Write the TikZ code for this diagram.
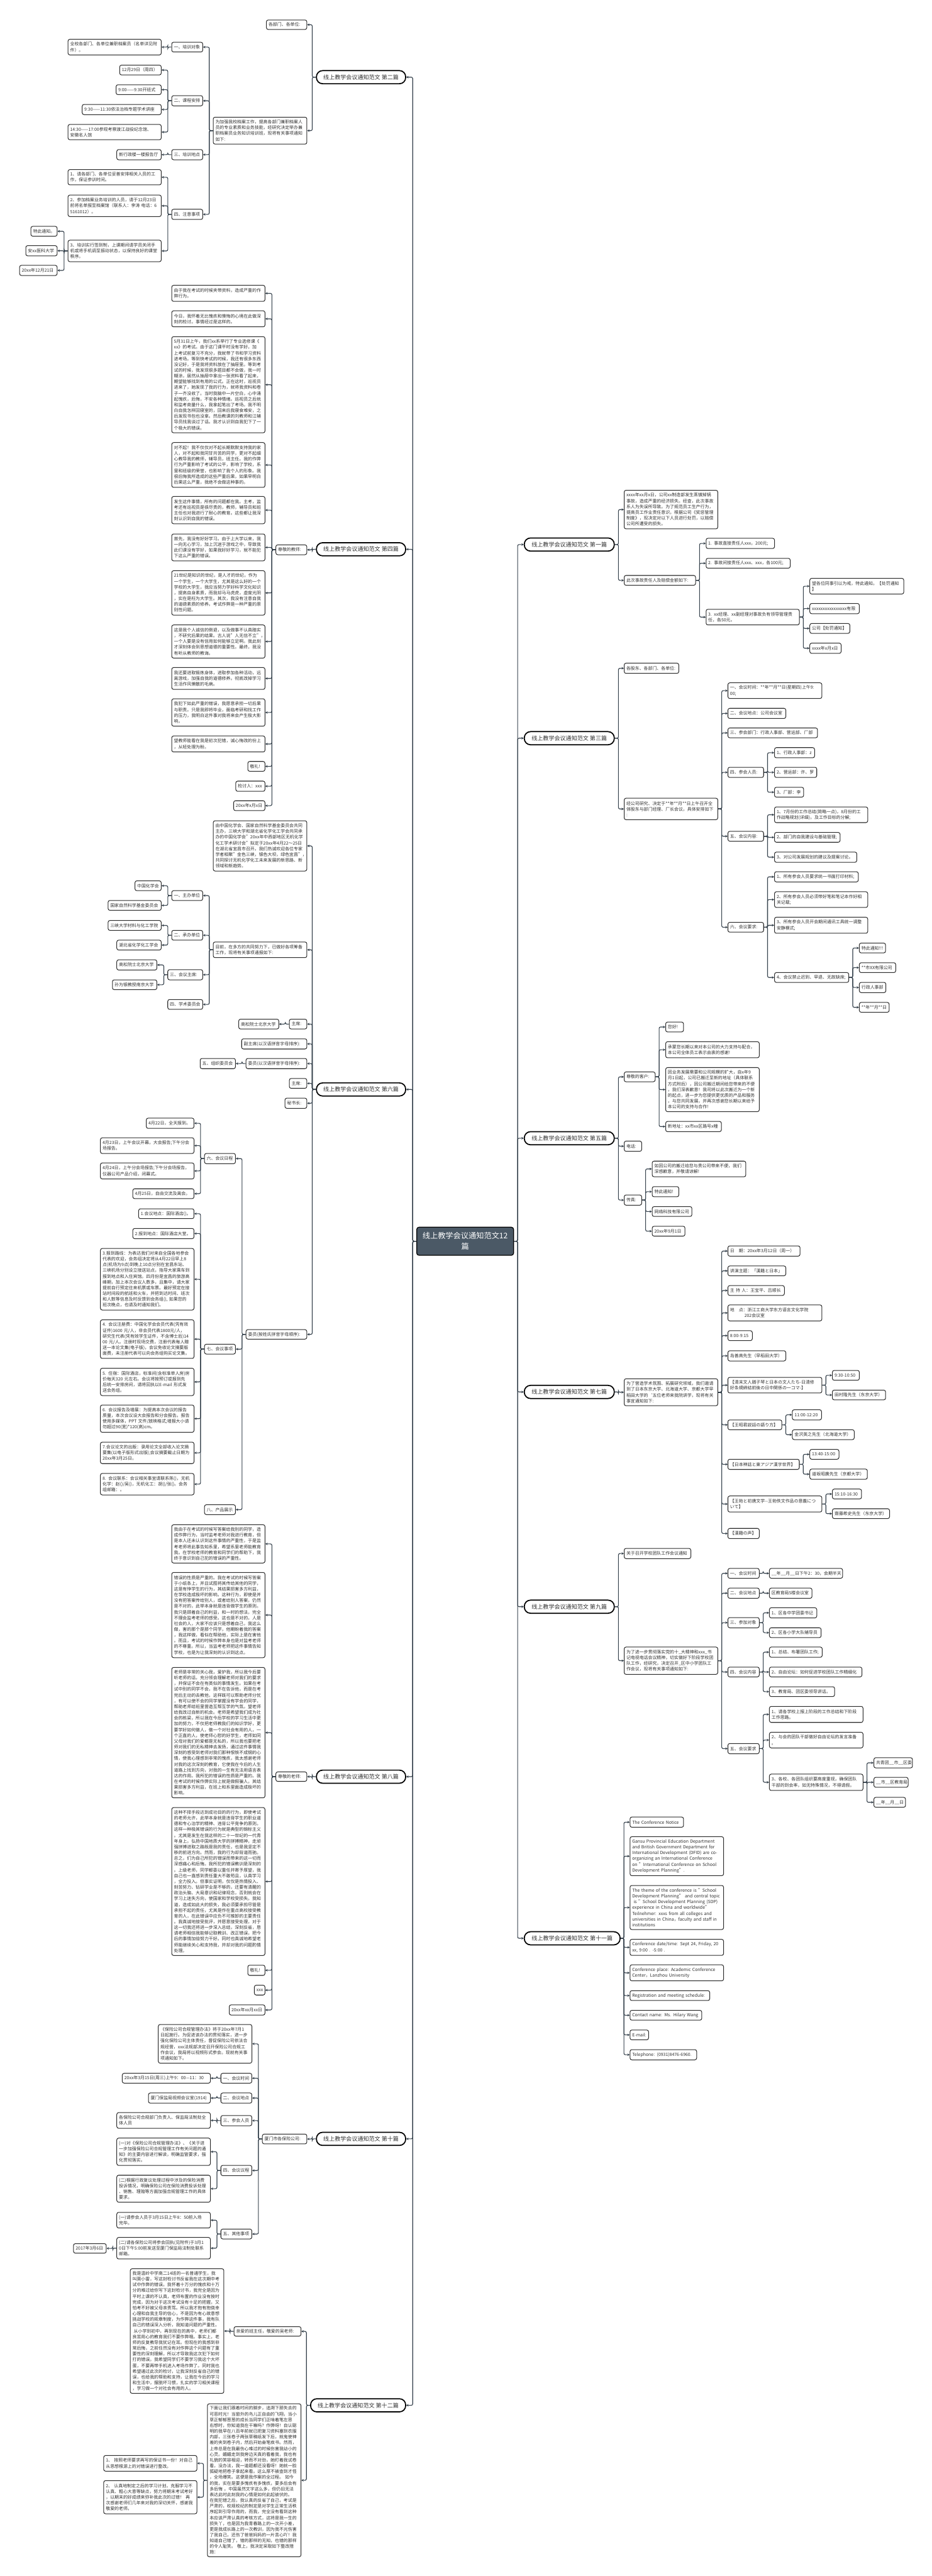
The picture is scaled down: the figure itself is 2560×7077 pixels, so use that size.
\documentclass[tikz,border=0pt]{standalone}
\usepackage{fontspec}
\setmainfont{Noto Sans CJK SC}
\usetikzlibrary{arrows.meta}
\definecolor{linec}{HTML}{34404B}
\definecolor{boxc}{HTML}{2B2B2B}
\definecolor{txtc}{HTML}{303030}
\definecolor{cfill}{HTML}{4B5966}
\newcommand{\bxfont}{\fontsize{3.4pt}{4.5pt}\selectfont}
\newcommand{\pillfont}{\fontsize{4.45pt}{5.5pt}\selectfont}
\newcommand{\cenfont}{\fontsize{6pt}{8.3pt}\selectfont}
\tikzset{
 box/.style={draw=boxc, line width=0.5pt, rounded corners=0.05cm, fill=white, inner xsep=0.06cm, inner ysep=0pt, align=left, font=\bxfont, text=txtc},
 pill/.style={draw=black, line width=0.85pt, rounded corners=0.17cm, fill=white, inner xsep=0.1cm, inner ysep=0pt, minimum height=0.36cm, font=\pillfont, text=txtc},
 cen/.style={draw=black, line width=0.6pt, rounded corners=0.06cm, fill=cfill, text=white, align=center, font=\cenfont, minimum width=2.66cm, minimum height=0.77cm},
 conn/.style={draw=linec, line width=0.55pt, rounded corners=0.04cm, -{Stealth[length=1.8pt,width=1.9pt]}},
}
\newcommand{\bx}[6]{%
 \pgfmathsetmacro\bxw{(#4-#2)*0.284528}%
 \pgfmathsetmacro\bxh{(#5-#3)*0.284528}%
 \pgfmathsetmacro\bxt{(#4-#2-12)*0.284528}%
 \node[box,anchor=north west,minimum width=\bxw pt,minimum height=\bxh pt,text width=\bxt pt] (#1) at (#2,#3) {#6};}
\newcommand{\lconn}[2]{\foreach \cc in {#2}{\draw[conn] (#1.west) -- ++(-10,0) |- (\cc.east);}}
\newcommand{\rconn}[2]{\foreach \cc in {#2}{\draw[conn] (#1.east) -- ++(10,0) |- (\cc.west);}}
\begin{document}
\begin{tikzpicture}[x=0.01cm,y=-0.01cm]
\fill[white] (0,0) rectangle (2560,7077);
\useasboundingbox (0,0) rectangle (2560,7077);
% ===== centre =====
\node[cen] (C) at (1278,3410) {线上教学会议通知范文12\\篇};
% ===== left pills =====
\node[pill,anchor=east,minimum width=2.45cm] (L2) at (1116,212) {线上教学会议通知范文 第二篇};
\node[pill,anchor=east,minimum width=2.45cm] (L4) at (1116,1509) {线上教学会议通知范文 第四篇};
\node[pill,anchor=east,minimum width=2.45cm] (L6) at (1116,2993) {线上教学会议通知范文 第六篇};
\node[pill,anchor=east,minimum width=2.45cm] (L8) at (1116,4881) {线上教学会议通知范文 第八篇};
\node[pill,anchor=east,minimum width=2.45cm] (L10) at (1116,5876) {线上教学会议通知范文 第十篇};
\node[pill,anchor=east,minimum width=2.61cm] (L12) at (1116,6608) {线上教学会议通知范文 第十二篇};
% ===== right pills =====
\node[pill,anchor=west,minimum width=2.47cm] (R1) at (1439,1496) {线上教学会议通知范文 第一篇};
\node[pill,anchor=west,minimum width=2.47cm] (R3) at (1439,2028) {线上教学会议通知范文 第三篇};
\node[pill,anchor=west,minimum width=2.47cm] (R5) at (1439,3127) {线上教学会议通知范文 第五篇};
\node[pill,anchor=west,minimum width=2.47cm] (R7) at (1439,3824) {线上教学会议通知范文 第七篇};
\node[pill,anchor=west,minimum width=2.47cm] (R9) at (1439,4414) {线上教学会议通知范文 第九篇};
\node[pill,anchor=west,minimum width=2.63cm] (R11) at (1439,5325) {线上教学会议通知范文 第十一篇};
\lconn{C}{L2,L4,L6,L8,L10,L12}
\rconn{C}{R1,R3,R5,R7,R9,R11}
% ===== 第二篇 =====
\bx{b2a}{731}{54}{842}{80}{各部门、各单位:}
\bx{b2b}{585}{321}{842}{395}{为加强我校档案工作，提高各部门兼职档案人\\员的专业素质和业务技能，经研究决定举办兼\\职档案员业务知识培训班，现将有关事项通知\\如下:}
\bx{b2c}{471}{115}{556}{142}{一、培训对象}
\bx{b2d}{471}{262}{556}{290}{二、课程安排}
\bx{b2e}{471}{410}{556}{438}{三、培训地点}
\bx{b2f}{471}{574}{556}{602}{四、注意事项}
\bx{b2g}{186}{107}{442}{150}{全校各部门、各单位兼职档案员（名单详见附\\件）。}
\bx{b2h}{328}{178}{442}{205}{12月29日（周四）}
\bx{b2i}{318}{232}{442}{259}{9:00——9:30开班式}
\bx{b2j}{225}{286}{442}{314}{9:30——11:30依法治档专题学术讲座}
\bx{b2k}{186}{341}{442}{383}{14:30——17:00参观考察渡江战役纪念馆、\\安徽名人馆}
\bx{b2l}{320}{410}{442}{438}{新行政楼一楼报告厅}
\bx{b2m}{186}{465}{442}{507}{1、请各部门、各单位妥善安排相关人员的工\\作，保证参训时间。}
\bx{b2n}{186}{535}{442}{594}{2、参加档案业务培训的人员，请于12月23日\\前将名单报至档案馆（联系人：李涛 电话：6\\5161012）。}
\bx{b2o}{186}{659}{442}{718}{3、培训实行签到制，上课期间请学员关闭手\\机或将手机调至振动状态，以保持良好的课堂\\秩序。}
\bx{b2p}{84}{621}{156}{648}{特此通知。}
\bx{b2q}{70}{674}{156}{702}{安xx医科大学}
\bx{b2r}{53}{728}{156}{756}{20xx年12月21日}
\lconn{L2}{b2a,b2b}
\lconn{b2b}{b2c,b2d,b2e,b2f}
\lconn{b2c}{b2g}
\lconn{b2d}{b2h,b2i,b2j,b2k}
\lconn{b2e}{b2l}
\lconn{b2f}{b2m,b2n,b2o}
\lconn{b2o}{b2p,b2q,b2r}
% ===== 第四篇 =====
\bx{b4a}{757}{1496}{842}{1523}{尊敬的教师:}
\bx{b4b}{471}{783}{727}{827}{由于我在考试的时候夹带资料，造成严重的作\\弊行为。}
\bx{b4c}{471}{853}{727}{897}{今日，我怀着无比愧疚和懊悔的心境在此做深\\刻的检讨。事情经过是这样的。}
\bx{b4d}{471}{924}{727}{1188}{5月31日上午，我们xx系举行了专业选修课《\\xx》的考试。由于这门课平时没有学好，加\\上考试前复习不充分，我就带了书和学习资料\\进考场。等到快考试的时候，我还有很多东西\\没记好，于是我将资料放在了抽屉里。等到考\\试的时候，我发现很多题目都不会做，我一时\\糊涂，居然从抽屉中拿出一张资料看了起来，\\期望能够找到有用的公式。正在这时，巡视员\\进来了，她发现了我的行为，就将我资料和卷\\子一齐没收了。当时我脑中一片空白，心中涌\\起愧疚，后悔，不安各种情绪。巡视员之后就\\和监考商量什么，我拿起笔出了考场。我不明\\白自我怎样回寝室的，回来后我寝食难安，之\\后发现书包也没拿。然后教课的刘教师和江辅\\导员找我谈过了话。我才认识到自我犯下了一\\个极大的错误。}
\bx{b4e}{471}{1215}{727}{1338}{对不起！我不仅仅对不起长期默默支持我的家\\人，对不起和我同甘共苦的同学，更对不起细\\心教导我的教师，辅导员，班主任。我的作弊\\行为严重影响了考试的公平，影响了学校，系\\里和班级的荣誉，也影响了我个人的形象。我\\很后悔我所造成的这些严重后果，如果早明白\\后果这么严重，我绝不会做这种事的。}
\bx{b4f}{471}{1363}{727}{1438}{发生这件事情，所有的问题都在我。主考，监\\考还有巡视员是很尽责的，教师，辅导员和班\\主任也对我进行了耐心的教育。这些都让我深\\刻认识到自我的错误。}
\bx{b4g}{471}{1466}{727}{1540}{首先，我没有好好学习。由于上大学以来，我\\一向无心学习，加上沉迷于游戏之中，导致我\\此们课没有学好，如果我好好学习，就不能犯\\下这么严重的错误。}
\bx{b4h}{471}{1567}{727}{1689}{21世纪是知识的世纪，是人才的世纪，作为\\一个学生，一个大学生，尤其是这么好的一个\\学校的大学生，我应当努力学好科学文化知识\\，提高自身素质，而我却马马虎虎，虚度光阴\\，实在是枉为大学生。其次，我没有注意自我\\的道德素质的修养。考试作弊是一种严重的原\\则性问题。}
\bx{b4i}{471}{1716}{727}{1807}{这是我个人诚信的倒退，以及做事不认真踏实\\，不研究后果的结果。古人说"人无信不立"，\\一个人要是没有信用如何能够立足啊。我此刻\\才深刻体会到思想道德的重要性。最终，我没\\有听从教师的教诲。}
\bx{b4j}{471}{1833}{727}{1893}{我还要进取锻炼身体，进取参加各种活动，远\\离游戏，加强自我的道德修养。彻底改掉学习\\生活作风懒散的毛病。}
\bx{b4k}{471}{1919}{727}{1994}{我犯下如此严重的错误，我愿意承担一切后果\\与职责。只是我即将毕业，面临考研和找工作\\的压力，我明白这件事对我将来会产生极大影\\响。}
\bx{b4l}{471}{2021}{727}{2065}{望教师能看在我是初次犯错，诚心悔改的份上\\，从轻处理为盼。}
\bx{b4m}{680}{2091}{727}{2118}{敬礼!}
\bx{b4n}{647}{2145}{727}{2173}{检讨人：xxx}
\bx{b4o}{641}{2199}{727}{2226}{20xx年x月x日}
\lconn{L4}{b4a}
\lconn{b4a}{b4b,b4c,b4d,b4e,b4f,b4g,b4h,b4i,b4j,b4k,b4l,b4m,b4n,b4o}
% ===== 第六篇 =====
\bx{b6a}{585}{2254}{842}{2392}{由中国化学会、国家自然科学基金委员会共同\\主办，三峡大学和湖北省化学化工学会共同承\\办的中国化学会"20xx年中西部地区无机化学\\化工学术研讨会"拟定于20xx年4月22～25日\\在湖北省宜昌市召开。我们热诚欢迎各位专家\\学者相聚"金色三峡，银色大坝，绿色宜昌"，\\共同探讨无机化学化工未来发展的新思路、新\\领域和新趋势。}
\bx{b6b}{585}{2587}{842}{2630}{目前，在多方的共同努力下，已做好各项筹备\\工作，现将有关事项通报如下:}
\bx{b6c}{794}{2799}{842}{2826}{主席:}
\bx{b6d}{663}{2853}{842}{2881}{副主席(以汉语拼音字母排序):}
\bx{b6e}{675}{2907}{842}{2935}{委员(以汉语拼音字母排序):}
\bx{b6f}{794}{2962}{842}{2989}{主席:}
\bx{b6g}{782}{3016}{842}{3044}{秘书长:}
\bx{b6h}{675}{3652}{842}{3678}{委员(按姓氏拼音字母顺序):}
\bx{b6i}{471}{2446}{556}{2473}{一、主办单位}
\bx{b6j}{471}{2555}{556}{2582}{二、承办单位}
\bx{b6k}{460}{2663}{556}{2691}{三、会议主席:}
\bx{b6l}{460}{2745}{556}{2772}{四、学术委员会}
\bx{b6m}{370}{2419}{442}{2446}{中国化学会}
\bx{b6n}{296}{2473}{442}{2500}{国家自然科学基金委员会}
\bx{b6o}{296}{2528}{442}{2555}{三峡大学材料与化工学院}
\bx{b6p}{320}{2582}{442}{2609}{湖北省化学化工学会}
\bx{b6q}{320}{2636}{430}{2664}{高松院士北京大学}
\bx{b6r}{308}{2691}{430}{2718}{孙为银教授南京大学}
\bx{b6s}{655}{2799}{765}{2826}{高松院士北京大学}
\bx{b6t}{549}{2907}{646}{2935}{五、组织委员会}
\bx{b6u}{561}{3168}{646}{3196}{六、会议日程}
\bx{b6v}{561}{3692}{646}{3719}{七、会议事项}
\bx{b6w}{561}{4133}{646}{4160}{八、产品展示}
\bx{b6x}{401}{3071}{532}{3099}{4月22日，全天报到。}
\bx{b6y}{275}{3125}{532}{3168}{4月23日，上午会议开幕，大会报告;下午分会\\场报告。}
\bx{b6z}{275}{3194}{532}{3238}{4月24日，上午分会场报告;下午分会场报告，\\仪器公司产品介绍，闭幕式。}
\bx{b6aa}{364}{3265}{532}{3292}{4月25日，自由交流及离会。}
\bx{b7a}{380}{3320}{532}{3347}{1.会议地点：国际酒店()。}
\bx{b7b}{364}{3374}{532}{3402}{2.报到地点：国际酒店大堂。}
\bx{b7c}{275}{3429}{532}{3598}{3.报到路线：为表达我们对来自全国各地参会\\代表的欢迎，会务组决定将从4月22日早上8\\点(机场为9点)到晚上10点分别在宜昌东站、\\三峡机场分别设立接送站点，指导大家乘车到\\报到地点和入住宾馆。四月份是宜昌的旅游高\\峰期，加上本次会议人数多，且集中，请大家\\提前自行预定往来机票或车票。最好预定在接\\站时间段的航班和火车，并把到达时间、班次\\和人数等信息及时反馈到会务组(), 如果您的\\班次晚点，也请及时通知我们。}
\bx{b7d}{275}{3625}{532}{3731}{4. 会议注册费：中国化学会会员代表(凭有效\\证件)1600 元/人，非会员代表1800元/人，\\研究生代表(凭有效学生证件，不含博士后)14\\00 元/人。注册时现场交费，注册代表每人赠\\送一本论文集(电子版)，会议免收论文摘要版\\面费，未注册代表可以向会务组购买论文集。}
\bx{b7e}{275}{3758}{532}{3833}{5. 住宿：国际酒店，标准间(含标准单人房)房\\价每天320 元左右。会议将按预订或报到先\\后统一安排房间，请将回执以E-mail 形式发\\送会务组。}
\bx{b7f}{275}{3859}{532}{3934}{6. 会议报告及墙展：为提高本次会议的报告\\质量，本次会议设大会报告和分会报告。报告\\使用多媒体，PPT 文件/放映格式;墙报大小请\\勿超过90(宽)*120(高)cm。}
\bx{b7g}{275}{3961}{532}{4020}{7.会议论文的出版：录用论文全部收入论文摘\\要集(以电子版形式出版);会议摘要截止日期为\\20xx年3月25日。}
\bx{b7h}{275}{4047}{532}{4106}{8. 会议联系：会议相关事宜请联系陈()，无机\\化学：赵()/吴()，无机化工：胡()/张()。会务\\组邮箱：。}
\lconn{L6}{b6a,b6b,b6c,b6d,b6e,b6f,b6g,b6h}
\lconn{b6b}{b6i,b6j,b6k,b6l}
\lconn{b6i}{b6m,b6n}
\lconn{b6j}{b6o,b6p}
\lconn{b6k}{b6q,b6r}
\lconn{b6c}{b6s}
\lconn{b6e}{b6t}
\lconn{b6h}{b6u,b6v,b6w}
\lconn{b6u}{b6x,b6y,b6z,b6aa}
\lconn{b6v}{b7a,b7b,b7c,b7d,b7e,b7f,b7g,b7h}
% ===== 第八篇 =====
\bx{b8a}{757}{4867}{842}{4893}{尊敬的老师:}
\bx{b8b}{471}{4188}{727}{4293}{我由于在考试的时候写答案给我别的同学，造\\成作弊行为，当时监考老师对我进行教育，但\\是本人还未认识到这件事情的严重性，于是监\\考老师将此事告知系里，希望系里老师能教育\\我。在学校老师的教育和同学们的帮助下，我\\终于意识到自己犯的错误的严重性。}
\bx{b8c}{471}{4319}{727}{4553}{错误的性质是严重的。我在考试的时候写答案\\于小纸条上，并且试图将其传给其他的同学，\\这是有悖学生的行为，其结果损害多方利益，\\在学校造成极坏的影响。这种行为，即使是并\\没有把答案传给别人，或者给别人答案，仍然\\是不对的，此举本身就是违背做学生的原则。\\我只是顾着自己的利益，和一时的想法，完全\\不理会监考老师的感受。这也是不对的，人是\\社会的人，大家不应该只是想着自己，我这么\\做，害的那个是那个同学，他期盼着我的答案\\，我这样做，看似在帮助他，实际上是在害他\\。而且，考试的时候作弊本身也是对监考老师\\的不尊重。所以，当监考老师把这件事情告知\\学校，也是为让我深刻的认识到这点。}
\bx{b8d}{471}{4580}{727}{4938}{老师是非常的关心我，爱护我，所以我今后要\\听老师的话，充分领会理解老师对我们的要求\\，并保证不会在有类似的事情发生。如果在考\\试中别的同学不会，我不在告诉他，而是在考\\完后主动的去教他，这样既可以帮助老师分忧\\，有可以使不会的同学掌握没有学会的同学，\\帮助老师给班里营造互帮互学的气氛。望老师\\给我改过自新的机会。老师是希望我们成为社\\会的栋梁，所以我在今后学校的学习生活中更\\加的努力，不仅把老师教我们的知识学好，更\\要学好如何做人，做一个对社会有用的人，一\\个正直的人，使老师心慰的好学生，老师如同\\父母对我们的爱都是无私的，所以我也要把老\\师对我们的无私精神去发扬，通过这件事情我\\深刻的感受到老师对我们那种恨铁不成钢的心\\情，使我心理感到非常的愧疚，我太感谢老师\\对我的这次深刻的教育，它使我在今后的人生\\道路上找到方向，对我的一生有无法用语言表\\达的作用。我所犯的错误的性质是严重的。我\\在考试的时候作弊实际上就是做假骗人，其结\\果损害多方利益，在班上和系里面造成极坏的\\影响。}
\bx{b8e}{471}{4965}{727}{5371}{这种不择手段达到成功目的的行为，即使考试\\的老师允许，此举本身就是违背学生的职业道\\德和专心治学的精神、违背公平竞争的原则。\\这样一种极其错误的行为就是典型的锦标主义\\。尤其是发生在我这样的二十一世纪的一代青\\年身上。弘扬中国地质大学的拼搏精神，走顽\\强拼搏进取之路既是我的责任，也是我坚定不\\移的前进方向。然而，我的行为却背道而驰。\\总之，们为自己所犯的错误而带来的这一切而\\深感痛心和后悔。我所犯的错误教训是深刻的\\。上级老师，同学都委以重任并寄予厚望，我\\自己也一直感到责任重大不敢苟且，认真学习\\，全力投入。但事实证明，仅仅是热情投入、\\刻苦努力、钻研学业是不够的，还要有清醒的\\政治头脑、大局意识和纪律观念，否则就会在\\学习上迷失方向，使国家和学校受损失。我知\\道，造成如此大的损失，我必须要承担尽管是\\承担不起的责任，尤其是作在重点高校接受教\\育的人，在此错误中应负不可推卸的主要责任\\。我真诚地接受批评，并愿意接受处理，对于\\这一切我还将进一步深入总结，深刻反省，恳\\请老师相信我能够记取教训、改正错误，把今\\后的事情加倍努力干好。同时也真诚地希望老\\师能继续关心和支持我，并却对我的问题酌情\\处理。}
\bx{b8f}{680}{5398}{727}{5426}{敬礼!}
\bx{b8g}{698}{5453}{727}{5480}{xxx}
\bx{b8h}{629}{5507}{727}{5535}{20xx年xx月xx日}
\lconn{L8}{b8a}
\lconn{b8a}{b8b,b8c,b8d,b8e,b8f,b8g,b8h}
% ===== 第十篇 =====
\bx{b10a}{720}{5862}{842}{5889}{厦门市各保险公司:}
\bx{b10b}{434}{5561}{691}{5667}{《保险公司合规管理办法》将于20xx年7月1\\日起施行。为促进该办法的贯彻落实，进一步\\强化保险公司主体责任，督促保险公司依法合\\规经营，xxx法规部决定召开保险公司合规工\\作会议，我局将以视频形式参会。现就有关事\\项通知如下。}
\bx{b10c}{606}{5695}{691}{5722}{一、会议时间}
\bx{b10d}{606}{5749}{691}{5777}{二、会议地点}
\bx{b10e}{606}{5811}{691}{5839}{三、参会人员}
\bx{b10f}{606}{5948}{691}{5976}{四、会议议程}
\bx{b10g}{606}{6123}{691}{6150}{五、其他事项}
\bx{b10h}{335}{5695}{577}{5722}{20xx年3月15日(周三)上午9：00—11：30}
\bx{b10i}{407}{5749}{577}{5777}{厦门保监局视频会议室(1914)}
\bx{b10j}{320}{5803}{577}{5846}{各保险公司合规部门负责人、保监局法制处全\\体人员}
\bx{b10k}{320}{5873}{577}{5948}{(一)对《保险公司合规管理办法》、《关于进\\一步加强保险公司合规管理工作有关问题的通\\知》的主要内容进行解读，明确监管要求，强\\化贯彻落实。}
\bx{b10l}{320}{5975}{577}{6049}{(二)根据行政复议处理过程中涉及的保险消费\\投诉情况，明确保险公司在保险消费投诉处理\\、销售、理赔等方面加强合规管理工作的具体\\要求。}
\bx{b10m}{320}{6077}{577}{6120}{(一)请参会人员于3月15日上午8：50前入场\\完毕。}
\bx{b10n}{320}{6146}{577}{6205}{(二)请各保险公司将参会回执(见附件)于3月1\\0日下午5:00前发送至厦门保监局法制处联系\\邮箱。}
\bx{b10o}{201}{6163}{291}{6189}{2017年3月6日}
\lconn{L10}{b10a}
\lconn{b10a}{b10b,b10c,b10d,b10e,b10f,b10g}
\lconn{b10c}{b10h}
\lconn{b10d}{b10i}
\lconn{b10e}{b10j}
\lconn{b10f}{b10k,b10l}
\lconn{b10g}{b10m,b10n}
\lconn{b10n}{b10o}
% ===== 第十二篇 =====
\bx{b12a}{642}{6391}{826}{6417}{亲爱的班主任，敬爱的吴老师:}
\bx{b12b}{569}{6603}{826}{7023}{下面让我们跟着时间的脚步，追溯下那失去的\\可恶时光！当窗外的鸟儿正自由的飞翔，当小\\草正郁郁葱葱的成长当同学们正啃着笔左思\\右想时，你知道我在干嘛吗？作弊呀！自认聪\\明的我早在八百年前就已把复习资料塞到衣服\\内部，三张卷子两张草稿纸发下后，就鬼使神\\差的夹到卷子内，然后开始奋笔疾书。然而，\\上帝总是在我最伤心难过的时候伤害我幼小的\\心灵。媚媚走到我旁边天真的看着我，我也有\\礼貌的笑容相迎，转而不对劲，她盯着我试卷\\看，没办法，我一道题都还没看呀！她就一脸\\狐疑地把卷子拿起来看。这么厚不被查到才怪\\，全场爆笑。这便是我作案的全过程。 如今\\的我，实在是要多愧疚有多愧疚，要多后会有\\多后悔 。中国虽然文字这么多，但仍旧无法\\表达此时此刻我的心情是如何此起彼伏的。\\在我犯错之后，我认真的反省了自己，考试是\\严肃的，校规校纪的制定是对学生正常生活秩\\序起到引导作用的，而我，完全没有看到这种\\本应该严肃认真的考核方式，这将是我一生的\\损失丫，也是因为我青春路上的一次开小差，\\更是我成长路上的一次教训，因为我不光伤害\\了我自己，还伤了爸爸妈妈的一片苦心吖！我\\知道自己错了，错的那样的无知，也错的那样\\的令人耻笑。 敬上，我决定采取如下整改措\\施：}
\bx{b12c}{357}{6232}{614}{6574}{我是温岭中学高二14班的一名普通学生，我\\叫莫小雷，写这封检讨书反省我在这次期中考\\试中作弊的错误。我怀着十万分的愧疚和十万\\分的难过给你写下这封检讨书，我完全是因为\\平时上课的不认真，老师布置的作业没有按时\\完成，因为对于这次考试没有十足的把握，又\\怕考不好被父母亲责骂。所以我才抱有抱侥幸\\心理和自我主导的信心，不是因为有心故意想\\挑战学校的规章制度，为作弊这件事，我有队\\自己的错误深入分析，我知道问题的严重性。\\\hspace*{0.3em}从小学到初中，再到现在的高中，老师们都\\良苦用心的教育我们不要作弊哦。事实上，老\\师的反复教导我犹记在耳。但现在的我感到非\\常后悔，之前任然没有对作弊这个问题有了重\\要性的深刻理解，所以才导致我这次犯下如何\\打的错误。我希望同学们不要学习我这个大坏\\蛋，不要再带手机进入考场作弊了。同时我也\\希望通过此次的检讨，让我深刻反省自己的错\\误，也给我的帮助和支持，让我在今后的学习\\和生活中，摆脱坏习惯，扎实的学习相关课程\\，学习做一个对社会有用的人。}
\bx{b12d}{284}{6745}{540}{6788}{1、 按照老师要求再写的保证书一份！对自己\\从思想根源上的对错误进行整改。}
\bx{b12e}{284}{6814}{540}{6905}{2、 认真地制定之后的学习计划，克服学习不\\认真、粗心大意等缺点，努力将期末考试考好\\，以期末的好成绩来弥补我此次的过错！ 再\\次感谢老师们几年来对我的深切关怀，感谢我\\敬爱的老师。}
\lconn{L12}{b12a,b12b}
\lconn{b12a}{b12c}
\lconn{b12b}{b12d,b12e}
% ===== 第一篇 =====
\bx{r1a}{1714}{1346}{1971}{1452}{xxxx年xx月x日，公司xx制造部发生蒸镀掉锅\\事故，造成严重的经济损失。经查，此次事故\\系人为失误所导致。为了规范员工生产行为，\\提高员工作业责任意识，根据公司《奖惩管理\\制度》，现决定对以下人员进行处罚，以赔偿\\公司所遭受的损失。}
\bx{r1b}{1714}{1580}{1910}{1607}{此次事故责任人及赔偿金额如下:}
\bx{r1c}{1939}{1478}{2127}{1506}{1. 事故直接责任人xxx，200元;}
\bx{r1d}{1939}{1533}{2170}{1560}{2. 事故间接责任人xxx、xxx，各100元;}
\bx{r1e}{1939}{1673}{2195}{1716}{3. xx经理、xx副经理对事故负有领导管理责\\任，各50元。}
\bx{r1f}{2224}{1588}{2482}{1631}{望各位同事引以为戒，特此通知。【处罚通知\\】}
\bx{r1g}{2224}{1657}{2360}{1685}{xxxxxxxxxxxxxxxx有限}
\bx{r1h}{2224}{1712}{2334}{1739}{公司【处罚通知】}
\bx{r1i}{2224}{1766}{2310}{1794}{xxxx年x月x日}
\rconn{R1}{r1a,r1b}
\rconn{r1b}{r1c,r1d,r1e}
\rconn{r1e}{r1f,r1g,r1h,r1i}
% ===== 第三篇 =====
\bx{r3a}{1714}{1821}{1864}{1849}{各股东、各部门、各单位:}
\bx{r3b}{1714}{2192}{1971}{2251}{经公司研究、决定于**年**月**日上午召开全\\体股东与部门经理、厂长会议，具体安排如下\\:}
\bx{r3c}{1999}{1875}{2257}{1918}{一、会议时间：**年**月**日(星期四)上午9:\\00;}
\bx{r3d}{1999}{1945}{2158}{1973}{二、会议地点：公司会议室}
\bx{r3e}{1999}{1999}{2245}{2026}{三、参会部门：行政人事部、营运部、厂部}
\bx{r3f}{1999}{2107}{2097}{2135}{四、参会人员:}
\bx{r3g}{1999}{2283}{2097}{2310}{五、会议内容:}
\bx{r3h}{1999}{2533}{2097}{2560}{六、会议要求:}
\bx{r3i}{2127}{2053}{2237}{2081}{1、行政人事部：z}
\bx{r3j}{2127}{2107}{2243}{2135}{2、营运部：许、罗}
\bx{r3k}{2127}{2162}{2207}{2189}{3、厂部：李}
\bx{r3l}{2127}{2216}{2383}{2259}{1、7月份的工作总结(简略一点)，8月份的工\\作战略规划(详细)，及工作目标的分解;}
\bx{r3m}{2127}{2286}{2307}{2313}{2、部门的自我建设与基础管理;}
\bx{r3n}{2127}{2340}{2353}{2368}{3、对公司发展规划的建议及提案讨论。}
\bx{r3o}{2127}{2394}{2357}{2422}{1、所有参会人员要求统一书面打印材料;}
\bx{r3p}{2127}{2449}{2383}{2492}{2、所有参会人员必须带好笔和笔记本作好相\\关记载;}
\bx{r3q}{2127}{2519}{2383}{2563}{3、所有参会人员开会期间通讯工具统一调整\\安静模式;}
\bx{r3r}{2127}{2671}{2331}{2698}{4、会议禁止迟到、早退、无故缺席;}
\bx{r3s}{2360}{2590}{2432}{2617}{特此通知!!!}
\bx{r3t}{2360}{2644}{2460}{2671}{**市XX有限公司}
\bx{r3u}{2360}{2698}{2433}{2726}{行政人事部}
\bx{r3v}{2360}{2753}{2442}{2780}{**年**月**日}
\rconn{R3}{r3a,r3b}
\rconn{r3b}{r3c,r3d,r3e,r3f,r3g,r3h}
\rconn{r3f}{r3i,r3j,r3k}
\rconn{r3g}{r3l,r3m,r3n}
\rconn{r3h}{r3o,r3p,r3q,r3r}
\rconn{r3r}{r3s,r3t,r3u,r3v}
% ===== 第五篇 =====
\bx{r5a}{1714}{2944}{1799}{2971}{尊敬的客户:}
\bx{r5b}{1714}{3134}{1762}{3162}{电话:}
\bx{r5c}{1714}{3282}{1762}{3310}{传真:}
\bx{r5d}{1828}{2807}{1877}{2834}{您好!}
\bx{r5e}{1828}{2861}{2085}{2905}{承蒙您长期以来对本公司的大力支持与配合，\\本公司全体员工表示由衷的感谢!}
\bx{r5f}{1828}{2932}{2085}{3053}{因业务发展需要和公司规模的扩大，自x年9\\月1日起，公司已搬迁至新的地址（具体联系\\方式附后），因公司搬迁期间给您带来的不便\\，我们深表歉意！我司将以此次搬迁为一个新\\的起点，进一步为您提供更优质的产品和服务\\，与您共同发展，并再次感谢您长期以来给予\\本公司的支持与合作!}
\bx{r5g}{1828}{3080}{1981}{3108}{新地址：xx市xx区路号x幢}
\bx{r5h}{1791}{3189}{2048}{3232}{如因公司的搬迁给您与贵公司带来不便，我们\\深感歉意，并敬请谅解!}
\bx{r5i}{1791}{3259}{1864}{3287}{特此通知!}
\bx{r5j}{1791}{3314}{1900}{3341}{网络科技有限公司}
\bx{r5k}{1791}{3368}{1881}{3395}{20xx年9月1日}
\rconn{R5}{r5a,r5b,r5c}
\rconn{r5a}{r5d,r5e,r5f,r5g}
\rconn{r5c}{r5h,r5i,r5j,r5k}
% ===== 第七篇 =====
\bx{r7a}{1714}{3787}{1971}{3861}{为了营造学术氛围、拓展研究领域，我们邀请\\到了日本东京大学、北海道大学、京都大学早\\稻田大学的`五位老师来我院讲学，现将有关\\事宜通知如下:}
\bx{r7b}{1999}{3422}{2197}{3450}{日\quad 期：20xx年3月12日（周一）}
\bx{r7c}{1999}{3477}{2158}{3504}{讲演主题：「漢籍と日本」}
\bx{r7d}{1999}{3531}{2154}{3558}{主 持 人：王宝平、吕顺长}
\bx{r7e}{1999}{3584}{2257}{3628}{地\quad 点：浙江工商大学东方语言文化学院\\\hspace*{3.3em}202会议室}
\bx{r7f}{1999}{3655}{2066}{3682}{8:00-9:15}
\bx{r7g}{1999}{3710}{2158}{3738}{岛善高先生（早稻田大学）}
\bx{r7h}{1999}{3783}{2257}{3826}{【清末文人銭子琴と日本の文人たち-日清修\\好条規締結前後の日中関係の一コマ-】}
\bx{r7i}{1999}{3900}{2147}{3927}{【王昭君説話の語り方】}
\bx{r7j}{1999}{4008}{2195}{4036}{【日本神話と東アジア漢字世界】}
\bx{r7k}{1999}{4109}{2257}{4153}{【王勃と初唐文学-{}-王勃佚文作品の意義につ\\いて】}
\bx{r7l}{1999}{4198}{2085}{4226}{【漢籍の声】}
\bx{r7m}{2286}{3764}{2360}{3791}{9:30-10:50}
\bx{r7n}{2286}{3818}{2432}{3845}{田村隆先生（东京大学）}
\bx{r7o}{2176}{3872}{2256}{3900}{11:00-12:20}
\bx{r7p}{2176}{3927}{2346}{3954}{金沢英之先生（北海道大学）}
\bx{r7q}{2224}{3981}{2304}{4008}{13:40-15:00}
\bx{r7r}{2224}{4035}{2382}{4063}{道坂昭廣先生（京都大学）}
\bx{r7s}{2286}{4090}{2366}{4117}{15:10-16:30}
\bx{r7t}{2286}{4144}{2443}{4171}{齋藤希史先生（东京大学）}
\rconn{R7}{r7a}
\rconn{r7a}{r7b,r7c,r7d,r7e,r7f,r7g,r7h,r7i,r7j,r7k,r7l}
\rconn{r7h}{r7m,r7n}
\rconn{r7i}{r7o,r7p}
\rconn{r7j}{r7q,r7r}
\rconn{r7k}{r7s,r7t}
% ===== 第九篇 =====
\bx{r9a}{1714}{4253}{1897}{4281}{关于召开学校团队工作会议通知}
\bx{r9b}{1714}{4524}{1971}{4599}{为了进一步贯彻落实党的十\_大精神和xxx\_书\\记电视电话会议精神，切实做好下阶段学校团\\队工作，经研究，决定召开\_区中小学团队工\\作会议，现将有关事项通知如下:}
\bx{r9c}{1999}{4308}{2085}{4335}{一、会议时间}
\bx{r9d}{1999}{4362}{2085}{4390}{二、会议地点}
\bx{r9e}{1999}{4443}{2085}{4471}{三、参加对象}
\bx{r9f}{1999}{4579}{2085}{4606}{四、会议内容}
\bx{r9g}{1999}{4789}{2085}{4817}{五、会议要求}
\bx{r9h}{2113}{4308}{2314}{4335}{\_\_年\_\_月\_\_日下午2：30，会期半天}
\bx{r9i}{2113}{4362}{2230}{4390}{区教育局5楼会议室}
\bx{r9j}{2113}{4416}{2243}{4444}{1、区各中学团委书记}
\bx{r9k}{2113}{4471}{2255}{4498}{2、区各小学大队辅导员}
\bx{r9l}{2113}{4524}{2258}{4552}{1、总结、布署团队工作;}
\bx{r9m}{2113}{4579}{2367}{4606}{2、自由论坛：如何促进学校团队工作精细化}
\bx{r9n}{2113}{4633}{2292}{4660}{3、教育局、团区委领导讲话。}
\bx{r9o}{2113}{4687}{2370}{4731}{1、请各学校上报上阶段的工作总结和下阶段\\工作思路。}
\bx{r9p}{2113}{4758}{2370}{4801}{2、与会的团队干部做好自由论坛的发言准备\\。}
\bx{r9q}{2113}{4873}{2370}{4918}{3、各校、各团队组织要高度重视，确保团队\\干部的到会率，如无特殊情况，不得请假。}
\bx{r9r}{2400}{4828}{2506}{4856}{共青团\_\_市\_\_区委}
\bx{r9s}{2400}{4882}{2494}{4909}{\_\_市\_\_区教育局}
\bx{r9t}{2400}{4937}{2487}{4964}{\_\_年\_\_月\_\_日}
\rconn{R9}{r9a,r9b}
\rconn{r9b}{r9c,r9d,r9e,r9f,r9g}
\rconn{r9c}{r9h}
\rconn{r9d}{r9i}
\rconn{r9e}{r9j,r9k}
\rconn{r9f}{r9l,r9m,r9n}
\rconn{r9g}{r9o,r9p,r9q}
\rconn{r9q}{r9r,r9s,r9t}
% ===== 第十一篇 =====
\bx{r11a}{1730}{4991}{1877}{5019}{\mbox{The Conference Notice}}
\bx{r11b}{1730}{5045}{1987}{5152}{\mbox{Gansu Provincial Education Department}\\\mbox{and British Government Department for}\\\mbox{International Development (DFID) are co-}\\\mbox{organizing an International Conference}\\\mbox{on "International Conference on School}\\\mbox{Development Planning".}}
\bx{r11c}{1730}{5179}{1987}{5300}{\mbox{The theme of the conference is "School}\\\mbox{Development Planning" and central topic}\\\mbox{\ is "School Development Planning (SDP)}\\\mbox{experience in China and worldwide"}\\\mbox{Teilnehmer: xxxs from all colleges and}\\\mbox{universities in China，faculty and staff in}\\\mbox{institutions}}
\bx{r11d}{1730}{5327}{1987}{5371}{\mbox{Conference date/time: Sept 24, Friday, 20}\\\mbox{xx, 9:00 . -5:00 .}}
\bx{r11e}{1730}{5397}{1987}{5441}{\mbox{Conference place: Academic Conference}\\\mbox{Center，Lanzhou University}}
\bx{r11f}{1730}{5468}{1949}{5495}{\mbox{Registration and meeting schedule:}}
\bx{r11g}{1730}{5522}{1927}{5549}{\mbox{Contact name: Ms. Hilary Wang}}
\bx{r11h}{1730}{5576}{1781}{5603}{\mbox{E-mail:}}
\bx{r11i}{1730}{5630}{1913}{5658}{\mbox{Telephone: (0931)8476-6960.}}
\foreach \cc in {r11a,r11b,r11c,r11d,r11e,r11f,r11g,r11h,r11i}{\draw[conn] (R11.east) -- ++(9,0) |- (\cc.west);}
\end{tikzpicture}
\end{document}
